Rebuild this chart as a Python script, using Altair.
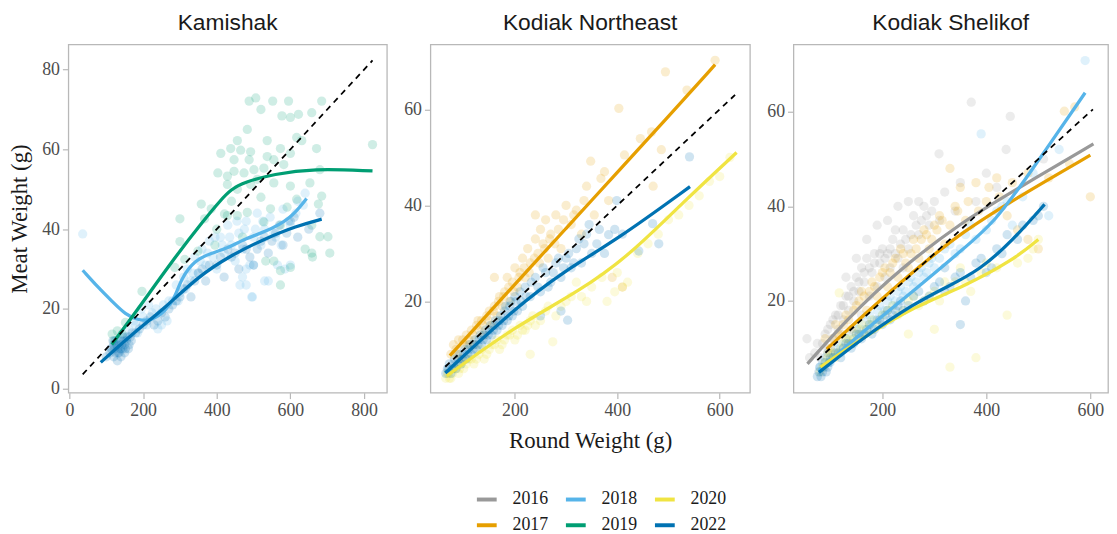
import altair as alt
import pandas as pd

# ---------------- data ----------------
YEAR_ORDER = ["2016", "2017", "2018", "2019", "2020", "2022"]
YEAR_COLORS = ["#999999", "#E69F00", "#56B4E9", "#009E73", "#F0E442", "#0072B2"]
# same mapping, listed in another order for the point fills (kept as a separate scale)
FILL_ORDER = ["2016", "2018", "2020", "2017", "2019", "2022"]
FILL_COLORS = ["#999999", "#56B4E9", "#F0E442", "#E69F00", "#009E73", "#0072B2"]

# ---- Kamishak ----
KAM_2018_PTS = [(36, 38.8), (130, 12), (140, 10), (150, 13), (160, 15), (175, 17), (185, 14), (200, 18),
                (210, 16), (225, 19), (240, 15), (255, 21), (265, 17), (280, 22), (290, 26), (300, 24),
                (310, 28), (320, 30), (330, 27), (340, 33), (350, 29), (360, 35), (370, 31), (380, 37),
                (390, 33), (400, 30), (410, 38), (420, 34), (430, 41), (440, 36), (450, 32), (460, 39),
                (470, 35), (480, 42), (490, 31), (500, 38), (510, 44), (520, 36), (530, 40), (545, 43),
                (560, 38), (580, 45), (600, 41), (620, 47), (640, 49), (470, 28), (480, 26), (495, 23),
                (530, 27), (497, 23), (463, 26), (540, 27), (180, 16), (195, 20), (215, 21), (235, 20),
                (250, 16), (270, 22), (295, 22), (315, 25), (335, 29), (355, 32), (375, 34), (395, 38),
                (415, 36), (435, 38), (455, 42), (475, 40), (505, 40), (525, 42), (555, 39), (575, 36),
                (595, 42), (615, 44), (635, 46), (565, 31), (585, 30), (600, 31), (480, 30), (500, 31)]
KAM_2019_PTS = [(488, 72.1), (506, 72.9), (520, 70), (552, 72.1), (595, 72.1), (685, 72.1), (600, 68),
                (622, 68.8), (658, 69.2), (577, 68.4), (483, 65), (617, 63), (631, 62.2), (456, 62.2),
                (537, 62.2), (823, 61.2), (671, 60.2), (438, 60.2), (465, 59.8), (492, 59.4), (573, 60.2),
                (600, 59), (411, 59), (447, 57.4), (488, 57.4), (537, 58.2), (555, 57.4), (582, 56.2),
                (403, 54.1), (429, 53.3), (447, 54.5), (474, 54.1), (501, 54.9), (528, 55.3), (429, 51.2),
                (456, 50), (492, 51.2), (510, 52.5), (555, 51.6), (600, 50.8), (653, 51.6), (680, 54.9),
                (685, 48.3), (676, 46.3), (358, 46.3), (385, 45.1), (421, 43.8), (456, 43.4), (483, 44.2),
                (546, 45.1), (591, 45.5), (617, 47.5), (367, 42.6), (429, 43.4), (528, 41.8), (573, 41),
                (658, 41), (300, 42.6), (300, 36.9), (349, 34.5), (313, 32.4), (286, 30.4), (658, 34),
                (680, 38.1), (702, 38.1), (707, 34), (533, 32), (555, 32), (573, 29.6), (600, 30.4),
                (197, 24.4), (143, 13.7), (116, 13.7), (152, 16.6), (121, 12), (130, 14.5), (400, 40),
                (440, 47), (520, 48), (470, 38), (395, 36), (573, 26), (640, 35), (660, 33)]
KAM_2022_PTS = [(100, 8), (110, 9), (115, 10), (120, 8), (120, 11), (125, 9), (125, 12), (130, 10),
                (130, 7), (135, 11), (135, 9), (140, 12), (140, 8), (145, 10), (145, 13), (150, 11),
                (150, 9), (155, 12), (160, 10), (165, 13), (170, 14), (190, 15), (210, 17), (230, 16),
                (250, 19), (270, 20), (290, 22), (310, 25), (330, 23), (350, 29), (370, 27), (400, 31),
                (420, 28), (440, 33), (460, 30), (480, 35), (500, 31), (520, 37), (540, 34), (560, 39),
                (580, 36), (600, 42), (620, 38), (650, 40), (680, 44), (112, 10), (118, 12), (122, 10),
                (128, 11), (132, 9), (138, 10), (142, 11), (148, 12), (152, 10), (158, 13), (162, 11),
                (168, 12), (180, 14), (200, 16), (220, 18), (240, 17), (260, 18), (280, 21), (300, 23),
                (320, 26), (340, 27), (360, 30), (380, 31), (410, 33), (430, 35), (450, 34), (470, 36),
                (490, 33), (510, 35), (530, 38), (550, 37), (570, 41), (590, 39), (610, 43)]
KAM_2018_LINE_X = [36, 80, 116, 152, 188, 224, 260, 286, 304, 340, 385, 430, 474, 528, 600, 644]
KAM_2018_LINE_Y = [29.7, 25.2, 21.9, 18.6, 17.1, 17.1, 19.4, 22.7, 27.7, 32.2, 34.0, 35.2, 37.5, 39.2, 42.5, 47.7]
KAM_2019_LINE_X = [115, 188, 277, 367, 412, 438, 475, 555, 662, 823]
KAM_2019_LINE_Y = [11.1, 20.2, 31.8, 42.5, 47.4, 49.9, 51.8, 53.8, 55.2, 54.6]
KAM_2022_LINE_X = [85, 170, 259, 349, 438, 528, 617, 685]
KAM_2022_LINE_Y = [6.6, 13.7, 20.2, 28.1, 33.4, 37.5, 40.8, 42.5]
KAM_DASH_X = [36, 823]
KAM_DASH_Y = [3.6, 82.3]

# ---- Kodiak Northeast ----
KNE_2017_PTS = [(75, 9), (85, 10), (90, 12), (95, 8), (100, 11), (105, 13), (110, 12), (115, 14), (120, 11),
                (125, 15), (130, 14), (135, 16), (140, 13), (145, 17), (150, 18), (155, 15), (160, 19),
                (165, 17), (170, 21), (175, 19), (180, 22), (185, 25), (190, 20), (195, 24), (200, 27),
                (205, 23), (210, 26), (215, 29), (220, 25), (225, 31), (230, 28), (240, 33), (245, 30),
                (250, 35), (255, 32), (260, 37), (265, 29), (270, 34), (280, 38), (285, 35), (290, 31),
                (300, 40), (310, 36), (320, 39), (330, 34), (340, 44), (348, 49.2), (368, 45.6), (383, 41),
                (414, 50.5), (403, 60.2), (445, 53.9), (467, 55.3), (486, 51.6), (470, 44), (494, 67.8),
                (536, 64), (591, 70.2), (390, 25), (410, 23), (80, 11), (88, 9), (98, 12), (108, 11),
                (118, 13), (128, 16), (138, 15), (148, 16), (158, 18), (168, 20), (178, 21), (188, 23),
                (198, 22), (208, 25), (218, 27), (228, 26), (238, 29), (248, 28), (258, 31), (268, 33),
                (278, 32), (295, 37), (315, 38), (335, 41), (355, 38), (375, 47), (160, 25), (240, 38)]
KNE_2020_PTS = [(65, 4), (70, 5), (75, 4), (80, 6), (90, 5), (95, 7), (100, 6), (110, 8), (120, 7),
                (130, 9), (140, 8), (150, 10), (160, 11), (170, 10), (180, 12), (190, 13), (200, 12),
                (210, 15), (220, 14), (230, 16), (240, 15), (260, 18), (274, 11.6), (280, 17), (300, 20),
                (330, 21), (350, 23), (380, 20), (400, 26), (420, 24), (440, 30), (480, 34), (520, 38),
                (560, 42), (600, 46), (230, 9), (320, 24), (68, 5), (72, 4), (78, 5), (85, 6), (92, 6),
                (105, 7), (115, 8), (125, 8), (135, 10), (145, 9), (155, 11), (165, 12), (175, 11),
                (185, 13), (195, 14), (205, 13), (215, 14), (225, 15), (235, 17), (250, 16), (265, 19),
                (290, 19), (310, 21), (340, 20), (370, 25), (395, 22), (410, 23), (460, 32), (500, 37),
                (540, 40), (580, 45), (620, 50)]
KNE_2022_PTS = [(65, 5), (70, 6), (75, 5), (80, 7), (85, 6), (90, 8), (95, 7), (100, 9), (105, 8),
                (110, 10), (115, 9), (120, 11), (125, 10), (130, 12), (135, 11), (140, 13), (145, 12),
                (150, 14), (155, 13), (160, 15), (165, 14), (170, 16), (175, 15), (180, 18), (185, 16),
                (190, 19), (195, 17), (200, 21), (205, 18), (210, 22), (215, 19), (220, 23), (230, 21),
                (240, 25), (250, 22), (260, 26), (270, 24), (280, 28), (290, 25), (300, 29), (310, 27),
                (320, 31), (330, 28), (340, 34), (350, 30), (360, 32), (383, 33.9), (399, 41), (410, 34),
                (442, 30.5), (469, 36.2), (481, 32), (541, 50.1), (303, 16.1), (290, 18), (250, 17),
                (68, 6), (72, 7), (78, 6), (82, 8), (88, 7), (92, 9), (98, 8), (102, 10), (108, 9),
                (112, 11), (118, 10), (122, 12), (128, 11), (132, 13), (138, 12), (142, 14), (148, 13),
                (152, 15), (158, 14), (162, 16), (168, 15), (172, 17), (178, 16), (182, 19), (188, 17),
                (192, 20), (198, 18), (202, 20), (212, 20), (222, 21), (232, 24), (245, 23), (255, 27),
                (265, 23), (275, 26), (285, 29), (295, 27), (305, 30), (315, 28), (325, 33), (335, 32),
                (345, 36), (365, 35), (375, 30), (395, 35)]
KNE_2017_LINE_X = [73, 200, 300, 400, 500, 591]
KNE_2017_LINE_Y = [8.7, 23.6, 35.2, 46.9, 58.5, 69.3]
KNE_2020_LINE_X = [67, 199, 329, 426, 530, 633]
KNE_2020_LINE_Y = [4.5, 14.7, 22.3, 29.8, 40.8, 51.0]
KNE_2022_LINE_X = [64, 199, 297, 400, 542]
KNE_2022_LINE_Y = [5.1, 18.5, 26.4, 32.9, 43.9]
KNE_DASH_X = [64, 630]
KNE_DASH_Y = [6.4, 63.0]

# ---- Kodiak Shelikof ----
KSH_2016_PTS = [(55, 12), (70, 9), (80, 8), (90, 13), (95, 10), (100, 15), (105, 12), (110, 17), (115, 14),
                (120, 19), (125, 16), (130, 21), (135, 18), (140, 23), (145, 20), (150, 25), (155, 22),
                (160, 27), (165, 24), (170, 29), (175, 21), (180, 26), (185, 30), (190, 23), (195, 28),
                (200, 31), (205, 25), (210, 30), (215, 27), (220, 33), (230, 29), (240, 35), (250, 31),
                (260, 38), (270, 34), (280, 40), (290, 36), (300, 41), (310, 37), (320, 43), (340, 39),
                (350, 45), (371, 62), (380, 41), (400, 47), (420, 44), (446, 59), (438, 52), (309, 51.1),
                (510, 50), (60, 8), (75, 11), (85, 11), (95, 14), (105, 16), (115, 17), (125, 19), (135, 21),
                (145, 22), (155, 24), (165, 26), (175, 27), (185, 28), (195, 30), (205, 29), (215, 31),
                (225, 30), (235, 32), (245, 33), (255, 34), (265, 36), (275, 37), (285, 38), (295, 39),
                (150, 29), (170, 33), (190, 36), (210, 37), (230, 40), (250, 41), (270, 41), (225, 35),
                (240, 27), (130, 25), (160, 17)]
KSH_2017_PTS = [(90, 12), (100, 10), (110, 15), (120, 13), (130, 17), (140, 14), (150, 19), (160, 22),
                (170, 18), (180, 24), (190, 21), (200, 26), (210, 23), (220, 28), (230, 25), (240, 30),
                (250, 27), (260, 33), (270, 29), (280, 35), (290, 31), (300, 36), (310, 38), (320, 32),
                (340, 40), (360, 37), (380, 45), (400, 41), (420, 46), (440, 38), (460, 35), (480, 33),
                (500, 31), (550, 60.1), (570, 61), (600, 42), (330, 48), (350, 44), (95, 9), (105, 12),
                (115, 13), (125, 15), (135, 16), (145, 18), (155, 20), (165, 21), (175, 22), (185, 23),
                (195, 25), (205, 27), (215, 26), (225, 29), (235, 31), (245, 28), (255, 30), (265, 31),
                (275, 33), (285, 34), (295, 33), (305, 35), (315, 37), (330, 36), (345, 39), (365, 41),
                (385, 39), (405, 44), (425, 42), (450, 45), (480, 47), (520, 46), (560, 49)]
KSH_2018_PTS = [(80, 6), (90, 8), (100, 7), (110, 10), (120, 9), (130, 12), (140, 11), (150, 14),
                (160, 13), (170, 16), (180, 15), (190, 18), (200, 17), (210, 20), (220, 19), (230, 22),
                (240, 21), (250, 24), (260, 23), (270, 26), (280, 25), (290, 28), (300, 27), (320, 31),
                (340, 30), (360, 34), (380, 33), (390, 55.3), (410, 37), (430, 40), (470, 42), (590, 70.8),
                (520, 38), (450, 36), (85, 7), (95, 9), (105, 8), (115, 11), (125, 10), (135, 13),
                (145, 12), (155, 15), (165, 14), (175, 17), (185, 16), (195, 19), (205, 18), (215, 21),
                (225, 20), (235, 23), (245, 22), (255, 25), (265, 24), (275, 27), (285, 26), (295, 29),
                (310, 29), (330, 32), (350, 31), (370, 36), (400, 35), (420, 39), (440, 41), (490, 47),
                (540, 52)]
KSH_2020_PTS = [(80, 5), (90, 7), (100, 9), (110, 8), (117, 21.7), (120, 10), (130, 12), (140, 11),
                (150, 13), (160, 15), (170, 14), (180, 16), (200, 17), (220, 19), (240, 18), (260, 21),
                (280, 20), (300, 22), (320, 24), (350, 27), (380, 8), (330, 6), (360, 24), (400, 28),
                (440, 17), (480, 29), (500, 33), (250, 13), (300, 14), (85, 6), (95, 8), (105, 9),
                (115, 9), (125, 11), (135, 12), (145, 12), (155, 14), (165, 13), (175, 15), (190, 15),
                (210, 18), (230, 17), (250, 20), (270, 19), (290, 21), (310, 20), (340, 24), (370, 22),
                (390, 26), (420, 27), (460, 28), (490, 31)]
KSH_2022_PTS = [(75, 4), (80, 6), (85, 5), (90, 7), (95, 6), (100, 8), (110, 9), (120, 8), (130, 11),
                (140, 10), (150, 13), (160, 12), (170, 14), (180, 13), (190, 16), (200, 15), (210, 18),
                (220, 17), (230, 19), (240, 18), (260, 21), (280, 20), (300, 23), (320, 22), (340, 25),
                (360, 20), (380, 28), (400, 26), (420, 31), (440, 34), (470, 36), (510, 40), (350, 15),
                (320, 27), (78, 5), (82, 4), (88, 6), (92, 5), (98, 7), (105, 8), (115, 9), (125, 10),
                (135, 11), (145, 11), (155, 13), (165, 13), (175, 15), (185, 14), (195, 16), (205, 17),
                (215, 16), (225, 18), (235, 20), (250, 19), (270, 22), (290, 21), (310, 24), (330, 23),
                (350, 26), (370, 25), (390, 29), (410, 27), (430, 30), (460, 33), (490, 37), (500, 38)]
KSH_2016_LINE_X = [56, 137, 231, 356, 450, 606]
KSH_2016_LINE_Y = [6.7, 16.7, 26.5, 36.9, 43.1, 53.2]
KSH_2017_LINE_X = [93, 168, 262, 356, 468, 600]
KSH_2017_LINE_Y = [9.8, 17.4, 26.5, 34.8, 42.4, 50.8]
KSH_2018_LINE_X = [78, 168, 262, 356, 418, 481, 590]
KSH_2018_LINE_Y = [5.3, 14.0, 22.3, 31.0, 36.9, 46.6, 64.0]
KSH_2020_LINE_X = [81, 168, 262, 356, 450, 500]
KSH_2020_LINE_Y = [6.0, 12.6, 18.8, 23.0, 28.5, 33.0]
KSH_2022_LINE_X = [78, 168, 262, 325, 387, 450, 512]
KSH_2022_LINE_Y = [4.9, 12.6, 19.5, 23.0, 26.5, 32.7, 40.4]
KSH_DASH_X = [75, 605]
KSH_DASH_Y = [7.5, 60.5]


# ---------------- helpers ----------------
def pts_df(groups):
    rows = []
    for year, pts in groups.items():
        for x, y in pts:
            rows.append({"yr": year, "rw": x, "mw": y})
    return pd.DataFrame(rows)


def line_df(groups):
    rows = []
    for year, (xs, ys) in groups.items():
        for x, y in zip(xs, ys):
            rows.append({"year": year, "rw": x, "mw": y})
    return pd.DataFrame(rows)


SERIF = "Liberation Serif"
SANS = "Liberation Sans"

stroke_legend = alt.Legend(
    orient="none", legendX=411, legendY=448, columns=3, title=None,
    symbolType="stroke", symbolStrokeWidth=4, symbolSize=400,
    labelFont=SERIF, labelFontSize=18, labelColor="#1a1a1a", labelOffset=14,
    columnPadding=10, rowPadding=5, padding=0,
)


def panel(name, pts, lines, dash_x, dash_y, xdom, ydom, xticks, yticks, width, xtitle, ytitle):
    x_enc = alt.X("rw:Q", title=xtitle,
                  scale=alt.Scale(domain=xdom, nice=False, zero=False),
                  axis=alt.Axis(values=xticks))
    y_enc = alt.Y("mw:Q", title=ytitle,
                  scale=alt.Scale(domain=ydom, nice=False, zero=False),
                  axis=alt.Axis(values=yticks))
    points = alt.Chart(pts_df(pts)).mark_circle(size=88, opacity=0.19).encode(
        x=x_enc, y=y_enc,
        fill=alt.Fill("yr:N", scale=alt.Scale(domain=FILL_ORDER, range=FILL_COLORS), legend=None),
    )
    smooth = alt.Chart(line_df(lines)).mark_line(strokeWidth=3.3, interpolate="basis").encode(
        x=x_enc, y=y_enc,
        stroke=alt.Stroke("year:N", scale=alt.Scale(domain=YEAR_ORDER, range=YEAR_COLORS),
                          legend=stroke_legend),
    )
    dash = alt.Chart(pd.DataFrame({"rw": dash_x, "mw": dash_y})).mark_line(
        color="black", strokeDash=[6, 5], strokeWidth=1.8
    ).encode(x=x_enc, y=y_enc)
    return alt.layer(points, smooth, dash).properties(
        width=width, height=352, title=alt.TitleParams(name)
    )


p1 = panel(
    "Kamishak",
    {"2018": KAM_2018_PTS, "2019": KAM_2019_PTS, "2022": KAM_2022_PTS},
    {"2018": (KAM_2018_LINE_X, KAM_2018_LINE_Y), "2019": (KAM_2019_LINE_X, KAM_2019_LINE_Y),
     "2022": (KAM_2022_LINE_X, KAM_2022_LINE_Y)},
    KAM_DASH_X, KAM_DASH_Y, [-3, 862], [-1, 86.3], [0, 200, 400, 600, 800], [0, 20, 40, 60, 80],
    322, None, "Meat Weight (g)",
)
p2 = panel(
    "Kodiak Northeast",
    {"2017": KNE_2017_PTS, "2020": KNE_2020_PTS, "2022": KNE_2022_PTS},
    {"2017": (KNE_2017_LINE_X, KNE_2017_LINE_Y), "2020": (KNE_2020_LINE_X, KNE_2020_LINE_Y),
     "2022": (KNE_2022_LINE_X, KNE_2022_LINE_Y)},
    KNE_DASH_X, KNE_DASH_Y, [35, 659], [1, 73.5], [200, 400, 600], [20, 40, 60],
    323, "Round Weight (g)", None,
)
p3 = panel(
    "Kodiak Shelikof",
    {"2016": KSH_2016_PTS, "2017": KSH_2017_PTS, "2018": KSH_2018_PTS,
     "2020": KSH_2020_PTS, "2022": KSH_2022_PTS},
    {"2016": (KSH_2016_LINE_X, KSH_2016_LINE_Y), "2017": (KSH_2017_LINE_X, KSH_2017_LINE_Y),
     "2018": (KSH_2018_LINE_X, KSH_2018_LINE_Y), "2020": (KSH_2020_LINE_X, KSH_2020_LINE_Y),
     "2022": (KSH_2022_LINE_X, KSH_2022_LINE_Y)},
    KSH_DASH_X, KSH_DASH_Y, [29, 634], [0.6, 74.2], [200, 400, 600], [20, 40, 60],
    318, None, None,
)

chart = (
    alt.hconcat(p1, p2, p3, spacing=15)
    .resolve_scale(x="independent", y="independent")
    .properties(padding=0, background="white")
    .configure_view(stroke="#b8b8b8", strokeWidth=1.3)
    .configure_axis(
        grid=False, domain=False, tickColor="#b8b8b8", tickSize=6, tickWidth=1.2,
        labelFont=SERIF, labelFontSize=18, labelColor="#4d4d4d", labelPadding=3,
        labelFlush=False,
        titleFont=SERIF, titleFontSize=23, titleFontWeight="normal", titleColor="#1a1a1a",
        titlePadding=10,
    )
    .configure_title(font=SANS, fontSize=23, fontWeight="normal", color="#1a1a1a",
                     anchor="middle", offset=10)
)

chart.save("out.html", embed_options={"renderer": "svg", "actions": False})
